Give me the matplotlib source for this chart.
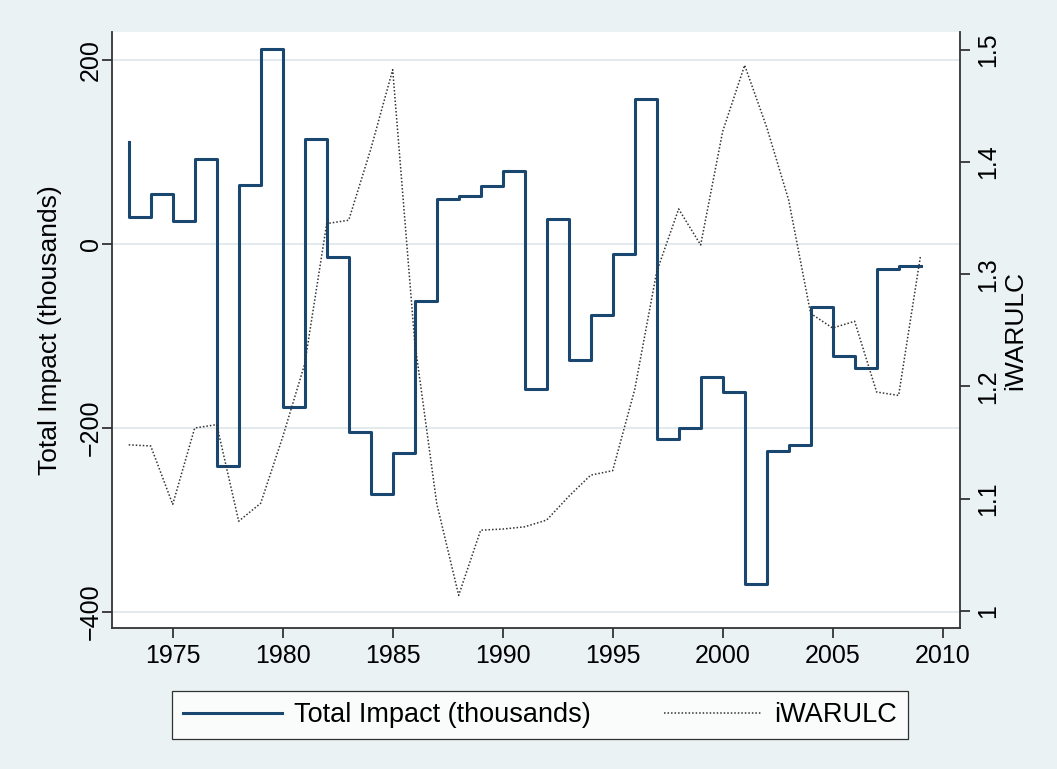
import matplotlib
matplotlib.use("Agg")
import matplotlib.pyplot as plt
from matplotlib.lines import Line2D

# Annual series, 1973-2009
years = list(range(1973, 2010))
total_impact = [110.9, 29.7, 54.3, 25.0, 92.0, -241.0, 64.5, 211.6, -176.8, 113.8,
                -14.5, -204.0, -271.4, -226.8, -62.0, 48.9, 52.5, 62.7, 79.3, -157.6,
                27.5, -126.4, -77.5, -11.2, 157.3, -212.0, -199.6, -144.6, -160.9, -369.9,
                -225.0, -218.8, -68.1, -122.0, -135.1, -27.5, -23.9]
iwarulc = [1.148, 1.147, 1.095, 1.163, 1.166, 1.080, 1.096, 1.155, 1.220, 1.345,
           1.348, 1.411, 1.482, 1.240, 1.096, 1.014, 1.072, 1.073, 1.075, 1.081,
           1.102, 1.121, 1.125, 1.197, 1.302, 1.358, 1.326, 1.427, 1.486, 1.431,
           1.366, 1.265, 1.252, 1.258, 1.195, 1.192, 1.317]

x_ticks = [1975, 1980, 1985, 1990, 1995, 2000, 2005, 2010]
left_ticks = [-400, -200, 0, 200]
right_ticks = [1.0, 1.1, 1.2, 1.3, 1.4, 1.5]
right_tick_labels = ["1", "1.1", "1.2", "1.3", "1.4", "1.5"]

BG = "#EAF2F3"
NAVY = "#1A476F"
DOT = "#333333"
AXC = "#333333"
FONT = ["Liberation Sans", "DejaVu Sans"]
TICK_FS = 18
TITLE_FS = 19
LEG_FS = 19.5

plt.rcParams["font.family"] = FONT

W, H = 1057, 769
fig = plt.figure(figsize=(W / 100, H / 100), dpi=100, facecolor=BG)
ax = fig.add_axes([112 / W, 1 - 628 / H, (960 - 112) / W, (628 - 32) / H])
ax.set_facecolor("white")

ax.step(years, total_impact, where="pre", color=NAVY, lw=2.2, zorder=3)
ax.set_xlim(1972.24, 2010.79)
ax.set_ylim(-417.4, 230.4)
ax.set_xticks(x_ticks)
ax.set_yticks(left_ticks)
ax.set_yticklabels([str(v).replace("-", "\u2212") for v in left_ticks])
ax.grid(axis="y", color="#E2EAEC", lw=1.4)
ax.set_axisbelow(True)

ax2 = ax.twinx()
ax2.plot(years, iwarulc, color=DOT, lw=1.1, linestyle=(0, (1, 1.3)), zorder=4)
ax2.set_ylim(0.9849, 1.5156)
ax2.set_yticks(right_ticks)
ax2.set_yticklabels(right_tick_labels)

for s in ["top", "right"]:
    ax.spines[s].set_visible(False)
for s in ["top", "left", "bottom"]:
    ax2.spines[s].set_visible(False)
for sp in [ax.spines["left"], ax.spines["bottom"], ax2.spines["right"]]:
    sp.set_color(AXC)
    sp.set_linewidth(1.3)

ax.tick_params(axis="x", direction="out", length=7.2, width=1.3, color=AXC,
               labelsize=TICK_FS, pad=4)
ax.tick_params(axis="y", direction="out", length=7.2, width=1.3, color=AXC,
               labelsize=TICK_FS, pad=-0.5)
ax2.tick_params(axis="y", direction="out", length=7.2, width=1.3, color=AXC,
                labelsize=TICK_FS, pad=4.5)

for t in ax.get_yticklabels():
    t.set_rotation(90)
    t.set_va("center")
for t in ax2.get_yticklabels():
    t.set_rotation(90)
    t.set_va("center")

ax.set_ylabel("Total Impact (thousands)", fontsize=TITLE_FS, labelpad=12)
ax2.set_ylabel("iWARULC", fontsize=TITLE_FS, labelpad=2)

handles = [Line2D([], [], color=NAVY, lw=2.2),
           Line2D([], [], color=DOT, lw=1.1, linestyle=(0, (1, 1.3)))]
leg = fig.legend(handles, ["Total Impact (thousands)", "iWARULC"],
                 loc="center", bbox_to_anchor=(540 / W, 1 - 715 / H), ncol=2,
                 fontsize=LEG_FS, frameon=True, fancybox=False,
                 handlelength=3.65, handletextpad=0.45, columnspacing=2.7,
                 borderpad=0.4)
leg.get_frame().set_edgecolor("black")
leg.get_frame().set_linewidth(0.9)
leg.get_frame().set_facecolor("white")

fig.savefig("out.png", dpi=100, facecolor=BG)
